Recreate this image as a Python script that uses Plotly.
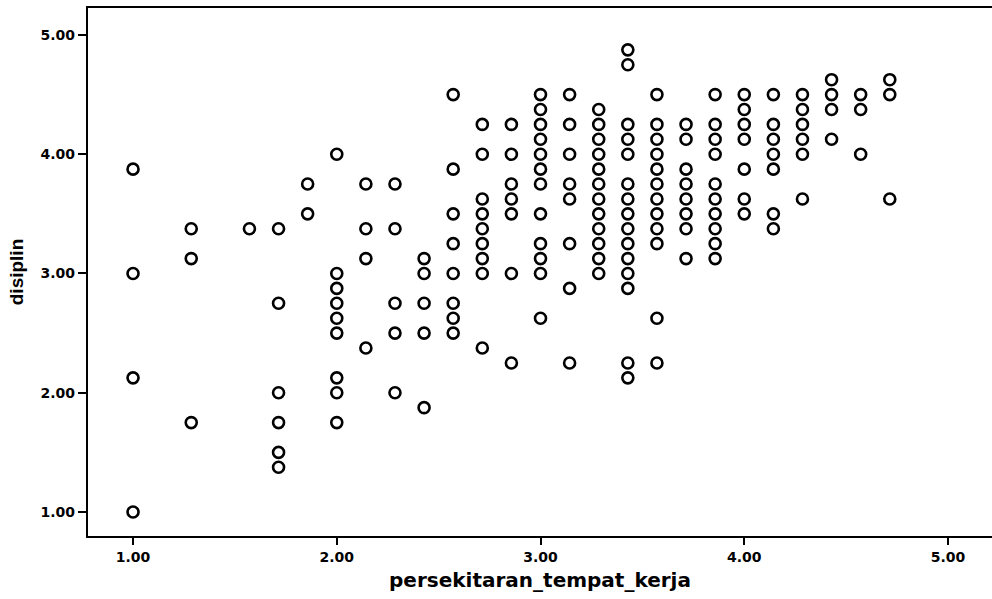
import plotly.graph_objects as go

# persekitaran_tempat_kerja (x) and disiplin (y), read column by column
x_vals = (
    [1.0] * 4
    + [1.2857] * 3
    + [1.5714] * 1
    + [1.7143] * 6
    + [1.8571] * 2
    + [2.0] * 9
    + [2.1429] * 4
    + [2.2857] * 5
    + [2.4286] * 5
    + [2.5714] * 8
    + [2.7143] * 9
    + [2.8571] * 7
    + [3.0] * 12
    + [3.1429] * 8
    + [3.2857] * 12
    + [3.4286] * 15
    + [3.5714] * 12
    + [3.7143] * 8
    + [3.8571] * 10
    + [4.0] * 7
    + [4.1429] * 7
    + [4.2857] * 6
    + [4.4286] * 4
    + [4.5714] * 3
    + [4.7143] * 3
)
y_vals = [
    # 1.00
    3.875, 3.0, 2.125, 1.0,
    # 1.29
    3.375, 3.125, 1.75,
    # 1.57
    3.375,
    # 1.71
    3.375, 2.75, 2.0, 1.75, 1.5, 1.375,
    # 1.86
    3.75, 3.5,
    # 2.00
    4.0, 3.0, 2.875, 2.75, 2.625, 2.5, 2.125, 2.0, 1.75,
    # 2.14
    3.75, 3.375, 3.125, 2.375,
    # 2.29
    3.75, 3.375, 2.75, 2.5, 2.0,
    # 2.43
    3.125, 3.0, 2.75, 2.5, 1.875,
    # 2.57
    4.5, 3.875, 3.5, 3.25, 3.0, 2.75, 2.625, 2.5,
    # 2.71
    4.25, 4.0, 3.625, 3.5, 3.375, 3.25, 3.125, 3.0, 2.375,
    # 2.86
    4.25, 4.0, 3.75, 3.625, 3.5, 3.0, 2.25,
    # 3.00
    4.5, 4.375, 4.25, 4.125, 4.0, 3.875, 3.75, 3.5, 3.25, 3.125, 3.0, 2.625,
    # 3.14
    4.5, 4.25, 4.0, 3.75, 3.625, 3.25, 2.875, 2.25,
    # 3.29
    4.375, 4.25, 4.125, 4.0, 3.875, 3.75, 3.625, 3.5, 3.375, 3.25, 3.125, 3.0,
    # 3.43
    4.875, 4.75, 4.25, 4.125, 4.0, 3.75, 3.625, 3.5, 3.375, 3.25, 3.125, 3.0, 2.875, 2.25, 2.125,
    # 3.57
    4.5, 4.25, 4.125, 4.0, 3.875, 3.75, 3.625, 3.5, 3.375, 3.25, 2.625, 2.25,
    # 3.71
    4.25, 4.125, 3.875, 3.75, 3.625, 3.5, 3.375, 3.125,
    # 3.86
    4.5, 4.25, 4.125, 4.0, 3.75, 3.625, 3.5, 3.375, 3.25, 3.125,
    # 4.00
    4.5, 4.375, 4.25, 4.125, 3.875, 3.625, 3.5,
    # 4.14
    4.5, 4.25, 4.125, 4.0, 3.875, 3.5, 3.375,
    # 4.29
    4.5, 4.375, 4.25, 4.125, 4.0, 3.625,
    # 4.43
    4.625, 4.5, 4.375, 4.125,
    # 4.57
    4.5, 4.375, 4.0,
    # 4.71
    4.625, 4.5, 3.625,
]

tick_values = [1, 2, 3, 4, 5]
tick_labels = ["1.00", "2.00", "3.00", "4.00", "5.00"]
x_title = "persekitaran_tempat_kerja"
y_title = "disiplin"

fig = go.Figure(
    go.Scatter(
        x=x_vals,
        y=y_vals,
        mode="markers",
        marker=dict(symbol="circle-open", size=11, color="black",
                    line=dict(width=2.6, color="black")),
        hoverinfo="x+y",
    )
)

tick_font = dict(family="DejaVu Sans", size=14, color="black", weight="bold")

fig.update_layout(
    width=992,
    height=599,
    margin=dict(l=88, r=0, t=8, b=63),
    paper_bgcolor="white",
    plot_bgcolor="white",
    showlegend=False,
    xaxis=dict(
        range=[0.779, 5.216],
        tickvals=tick_values,
        ticktext=tick_labels,
        ticks="outside",
        ticklen=7,
        tickwidth=2,
        tickcolor="black",
        showline=True,
        linewidth=2.2,
        linecolor="black",
        mirror=True,
        showgrid=False,
        zeroline=False,
        tickfont=tick_font,
        title=dict(text=x_title, standoff=9,
                   font=dict(family="DejaVu Sans", size=20, color="black", weight="bold")),
    ),
    yaxis=dict(
        range=[0.799, 5.226],
        tickvals=tick_values,
        ticktext=tick_labels,
        ticks="outside",
        ticklen=8,
        tickwidth=2,
        tickcolor="black",
        showline=True,
        linewidth=2.2,
        linecolor="black",
        showgrid=False,
        zeroline=False,
        tickfont=tick_font,
        title=dict(text=y_title, standoff=12,
                   font=dict(family="Liberation Sans", size=19, color="black", weight="bold")),
    ),
)

fig.write_html("out.html",
               config={"displayModeBar": False},
               post_script="document.body.style.margin='0';document.body.style.overflow='hidden';")
